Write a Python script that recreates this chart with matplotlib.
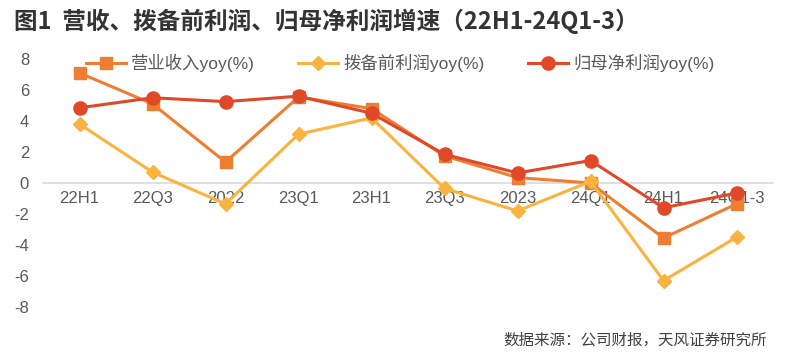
import matplotlib
matplotlib.use("Agg")
import matplotlib.pyplot as plt
import numpy as np

plt.rcParams['font.family'] = ['Liberation Sans', 'Noto Sans CJK SC', 'DejaVu Sans']
plt.rcParams['axes.unicode_minus'] = False

# data
periods = ["22H1", "22Q3", "2022", "23Q1", "23H1", "23Q3", "2023", "24Q1", "24H1", "24Q1-3"]
revenue_yoy = [7.1, 5.1, 1.35, 5.55, 4.8, 1.75, 0.35, 0.0, -3.55, -1.35]
ppop_yoy = [3.8, 0.7, -1.35, 3.15, 4.2, -0.35, -1.8, 0.1, -6.3, -3.5]
net_profit_yoy = [4.85, 5.5, 5.25, 5.6, 4.5, 1.85, 0.65, 1.45, -1.6, -0.65]
series_labels = ["营业收入yoy(%)", "拨备前利润yoy(%)", "归母净利润yoy(%)"]

title = "图1  营收、拨备前利润、归母净利润增速（22H1-24Q1-3）"
source = "数据来源：公司财报，天风证券研究所"

fig = plt.figure(figsize=(7.85, 3.56), dpi=100)
ax = fig.add_axes([43 / 785, 1 - 307 / 356, 730 / 785, 248 / 356])

x = np.arange(len(periods))
ax.plot(x, revenue_yoy, color="#EE7E32", lw=2.2, marker="s", ms=9,
        label=series_labels[0], zorder=3)
ax.plot(x, ppop_yoy, color="#FBB340", lw=2.2, marker="D", ms=7,
        label=series_labels[1], zorder=4)
ax.plot(x, net_profit_yoy, color="#E04828", lw=2.2, marker="o", ms=9.5,
        label=series_labels[2], zorder=5)

ax.set_xlim(-0.5, len(periods) - 0.5)
ax.set_ylim(-8, 8)
ax.set_yticks(np.arange(-8, 9, 2))
ax.set_xticks(x)
ax.set_xticklabels(periods)

for s in ["top", "right", "left"]:
    ax.spines[s].set_visible(False)
ax.spines["bottom"].set_position(("data", 0))
ax.spines["bottom"].set_color("#D9D9D9")
ax.spines["bottom"].set_linewidth(1.2)
ax.spines["bottom"].set_zorder(1)

ax.tick_params(axis="x", length=0, pad=6, labelsize=12, labelcolor="#595959")
ax.tick_params(axis="y", length=0, pad=10, labelsize=12, labelcolor="#595959")
ax.set_facecolor("none")

fig.legend(loc="center", bbox_to_anchor=(0.51, 0.823), ncol=3, frameon=False,
           fontsize=12.5, handlelength=2.3, handletextpad=0.3, columnspacing=2.5,
           labelcolor="#595959")

fig.text(14 / 785, 1 - 21 / 356, title, fontsize=17, fontweight="bold",
         family="Noto Sans CJK SC", color="#333333", va="center", ha="left")
fig.text(767 / 785, 1 - 340 / 356, source, fontsize=11.2, family="Noto Sans CJK SC",
         color="#404040", va="center", ha="right")

fig.savefig("out.png", dpi=100)
